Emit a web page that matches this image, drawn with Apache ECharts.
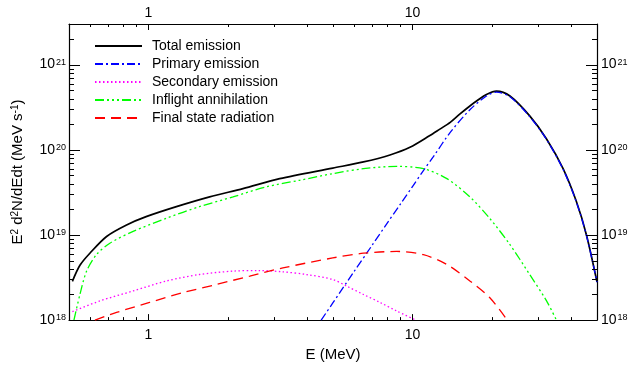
<!DOCTYPE html>
<html>
<head>
<meta charset="utf-8">
<script src="https://cdn.jsdelivr.net/npm/echarts@6/dist/echarts.min.js"></script>
<style>
  html, body { margin: 0; padding: 0; background: #fff; }
  #chart { width: 631px; height: 367px; }
</style>
</head>
<body>
<div id="chart"></div>
<script>
// spectrum components, E in MeV, E^2 d2N/dEdt in MeV s^-1
const totalE = [0.515, 0.55, 0.6, 0.694, 0.826, 0.98, 1.276, 1.705, 2.28, 3.14, 4.99, 6.52, 8.22, 9.78, 11.6, 12.7, 13.9, 15.1, 16.5, 17.7, 19.06, 20.8, 23.4, 27.8, 32.2, 37.2, 41.8, 45.6, 50];
const totalV = [2.85e18, 4.4e18, 6.1e18, 9.6e18, 1.31e19, 1.64e19, 2.15e19, 2.8e19, 3.5e19, 4.58e19, 6.1e19, 7.2e19, 8.7e19, 1.07e20, 1.46e20, 1.75e20, 2.1e20, 2.62e20, 3.27e20, 3.84e20, 4.47e20, 4.89e20, 4.28e20, 2.5e20, 1.34e20, 6.0e19, 2.45e19, 1.0e19, 2.8e18];

const primaryE = [4.51, 5, 6, 7, 8, 9, 10, 11, 12, 13.9, 16.5, 19.06, 20.8, 23.4, 27.8, 32.2, 37.2, 41.8, 45.6, 50];
const primaryV = [1e18, 1.6e18, 3.7e18, 7.4e18, 1.36e19, 2.3e19, 3.7e19, 5.7e19, 8.3e19, 1.6e20, 2.95e20, 4.28e20, 4.75e20, 4.2e20, 2.45e20, 1.32e20, 5.9e19, 2.42e19, 9.9e18, 2.8e18];

const secondaryE = [0.515, 0.655, 0.875, 1.17, 1.56, 2.09, 2.63, 3.23, 3.96, 4.99, 5.64, 6.52, 7.54, 8.71, 10.3];
const secondaryV = [1.26e18, 1.68e18, 2.2e18, 2.88e18, 3.43e18, 3.76e18, 3.82e18, 3.69e18, 3.43e18, 3.0e18, 2.5e18, 2.0e18, 1.61e18, 1.28e18, 1.0e18];

const inflightE = [0.522, 0.55, 0.583, 0.636, 0.714, 0.875, 1.17, 1.56, 2.09, 2.79, 3.73, 4.99, 6.52, 8.71, 11, 13.5, 16.5, 19.6, 23.4, 27.8, 32.2, 35.1];
const inflightV = [1e18, 2.0e18, 3.76e18, 5.9e18, 8.0e18, 1.1e19, 1.57e19, 2.15e19, 2.8e19, 3.67e19, 4.38e19, 5.25e19, 6.0e19, 6.38e19, 6.0e19, 4.58e19, 2.8e19, 1.57e19, 7.7e18, 3.43e18, 1.68e18, 1.0e18];

const fsrE = [0.627, 0.757, 1.01, 1.35, 1.81, 2.42, 3.23, 4.99, 6.52, 8.71, 11, 13.5, 16.5, 19.6, 22.7];
const fsrV = [1e18, 1.23e18, 1.61e18, 2.1e18, 2.62e18, 3.29e18, 4.1e18, 5.37e18, 6.1e18, 6.4e18, 5.87e18, 4.5e18, 2.88e18, 1.84e18, 1.03e18];

const xMajor = [1, 10];
const xMinor = [0.6, 0.7, 0.8, 0.9, 2, 3, 4, 5, 6, 7, 8, 9, 20, 30, 40];
const yMajor = [1e18, 1e19, 1e20, 1e21];
const yMinor = [];
[1e18, 1e19, 1e20].forEach(d => { for (let k = 2; k <= 9; k++) yMinor.push(k * d); });
yMinor.push(2e21);

const X_MIN = 0.5, X_MAX = 50, Y_MIN = 1e18, Y_MAX = 3e21;
const font = 'Liberation Sans, Arial, Helvetica, sans-serif';
const pairs = (xs, ys) => xs.map((x, i) => [x, ys[i]]);

const chart = echarts.init(document.getElementById('chart'));

const frame = () => ({ show: true, onZero: false, lineStyle: { color: '#000', width: 1.2 } });

const yLabel = {
  fontFamily: font, color: '#000',
  formatter: v => '{b|10}{s|' + Math.round(Math.log10(v)) + '}',
  rich: {
    b: { fontSize: 14, fontFamily: font, color: '#000' },
    s: { fontSize: 9, fontFamily: font, color: '#000', verticalAlign: 'top', padding: [0, 0, 0, 1] },
  },
};

const lineSeries = (name, xs, ys, color, width, type) => ({
  name: name, type: 'line', symbol: 'none', smooth: 0.3,
  data: pairs(xs, ys),
  lineStyle: { color: color, width: width, type: type }, itemStyle: { color: color },
});

const option = {
  animation: false,
  backgroundColor: '#fff',
  grid: { left: 69, right: 34, top: 24, bottom: 44 },
  legend: {
    orient: 'vertical', left: 89, top: 34,
    itemWidth: 47, itemHeight: 14, itemGap: 4,
    itemStyle: { opacity: 0 },
    textStyle: { fontFamily: font, fontSize: 14, color: '#000', padding: [0, 0, 0, 5] },
    data: ['Total emission', 'Primary emission', 'Secondary emission', 'Inflight annihilation', 'Final state radiation'],
  },
  xAxis: [
    {
      type: 'log', logBase: 10, min: X_MIN, max: X_MAX, position: 'bottom',
      name: 'E (MeV)', nameLocation: 'middle', nameGap: 25,
      nameTextStyle: { fontFamily: font, fontSize: 15, color: '#000' },
      splitLine: { show: false }, axisLine: frame(), axisTick: { show: false },
      axisLabel: { customValues: xMajor, margin: 8, fontFamily: font, fontSize: 14, color: '#000' },
    },
    {
      type: 'log', logBase: 10, min: X_MIN, max: X_MAX, position: 'top',
      splitLine: { show: false }, axisLine: frame(), axisTick: { show: false },
      axisLabel: { customValues: xMajor, margin: 4, fontFamily: font, fontSize: 14, color: '#000' },
    },
  ],
  yAxis: [
    {
      type: 'log', logBase: 10, min: Y_MIN, max: Y_MAX, position: 'left',
      name: 'E{s|2} d{s|2}N/dEdt (MeV s{s|-1})', nameLocation: 'middle', nameGap: 44,
      nameTextStyle: {
        fontFamily: font, fontSize: 15, color: '#000',
        rich: { s: { fontSize: 10, fontFamily: font, color: '#000', verticalAlign: 'top' } },
      },
      splitLine: { show: false }, axisLine: frame(), axisTick: { show: false },
      axisLabel: Object.assign({ customValues: yMajor, margin: 3 }, yLabel),
    },
    {
      type: 'log', logBase: 10, min: Y_MIN, max: Y_MAX, position: 'right',
      splitLine: { show: false }, axisLine: frame(), axisTick: { show: false },
      axisLabel: Object.assign({ customValues: yMajor, margin: 4 }, yLabel),
    },
  ],
  series: [
    lineSeries('Total emission', totalE, totalV, '#000', 1.7, 'solid'),
    lineSeries('Primary emission', primaryE, primaryV, '#0000ff', 1.3, [8, 3, 2, 3]),
    lineSeries('Secondary emission', secondaryE, secondaryV, '#ff00ff', 1.3, [1.5, 2.5]),
    lineSeries('Inflight annihilation', inflightE, inflightV, '#00ff00', 1.3, [9, 3, 2, 3, 2, 3, 2, 3]),
    lineSeries('Final state radiation', fsrE, fsrV, '#ff0000', 1.3, [10, 6]),
  ],
};

chart.setOption(option);

// inward ticks on all four sides, positioned with the chart's own axis scales
const px = (x, y) => chart.convertToPixel({ xAxisIndex: 0, yAxisIndex: 0 }, [x, y]);
const tickLine = (x1, y1, x2, y2) => ({
  type: 'line', silent: true, z: 100,
  shape: { x1: x1, y1: y1, x2: x2, y2: y2 },
  style: { stroke: '#000', lineWidth: 1 },
});
const ticks = [];
xMajor.map(v => [v, 6]).concat(xMinor.map(v => [v, 3])).forEach(([v, len]) => {
  const b = px(v, Y_MIN), t = px(v, Y_MAX);
  const x = Math.round(b[0]) + 0.5;
  ticks.push(tickLine(x, b[1], x, b[1] - len), tickLine(x, t[1], x, t[1] + len));
});
yMajor.map(v => [v, 11]).concat(yMinor.map(v => [v, 5])).forEach(([v, len]) => {
  const l = px(X_MIN, v), r = px(X_MAX, v);
  const y = Math.round(l[1]) + 0.5;
  ticks.push(tickLine(l[0], y, l[0] + len, y), tickLine(r[0], y, r[0] - len, y));
});
chart.setOption({ graphic: { elements: ticks } });
</script>
</body>
</html>
